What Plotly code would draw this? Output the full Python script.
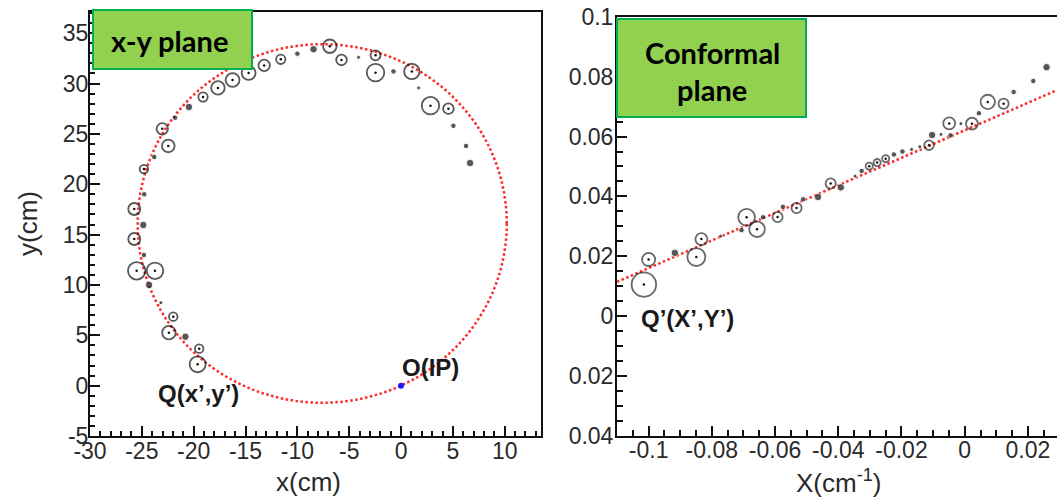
import plotly.graph_objects as go

# ---------------- x-y plane hits ----------------
# hits with a drift ring: centre (cm) and drift radius (cm)
xy_ring_x = [-25.73, -25.73, -24.8, -23.03, -22.45, -19.1, -17.66, -16.25, -14.7, -13.2,
             -11.6, -6.87, -5.74, -2.46, -2.46, 1.04, 2.84, 4.57,
             -25.5, -23.73, -21.97, -22.39, -19.47, -19.62]
xy_ring_y = [17.54, 14.56, 21.5, 25.5, 23.8, 28.66, 29.56, 30.35, 31.05, 31.8,
             32.4, 33.7, 32.34, 32.8, 31.08, 31.2, 27.8, 27.5,
             11.4, 11.4, 6.85, 5.26, 3.67, 2.12]
xy_ring_r = [0.58, 0.58, 0.41, 0.55, 0.61, 0.45, 0.65, 0.67, 0.67, 0.55,
             0.45, 0.65, 0.51, 0.48, 0.84, 0.74, 0.84, 0.51,
             0.84, 0.80, 0.41, 0.65, 0.41, 0.77]
# hits without a ring: position (cm) and charge weight (1..3)
xy_dot_x = [-24.86, -24.77, -23.8, -21.8, -20.46, -10.0, -8.44, -4.1, -0.73, 1.71,
            5.05, 6.27, 6.66, -24.8, -24.3, -23.16, -20.8]
xy_dot_y = [15.95, 19.0, 22.7, 26.6, 27.67, 32.96, 33.4, 32.6, 31.2, 29.56,
            25.8, 23.8, 22.1, 12.97, 10.0, 8.24, 4.86]
xy_dot_w = [3, 2, 2, 2, 3, 2, 3, 1, 2, 1,
            2, 2, 3, 2, 3, 1, 3]
# fitted circle through the interaction point
circle_cx, circle_cy = -7.6, 16.1
circle_r = 17.8
ip_x, ip_y = [0.0], [0.0]

# ---------------- conformal plane hits ----------------
cf_ring_x = [-0.1015, -0.1, -0.0849, -0.0833, -0.069, -0.0657, -0.0592, -0.0532, -0.0424,
             -0.0302, -0.0277, -0.025, -0.0113, -0.0049, 0.0023, 0.0073, 0.0123]
cf_ring_y = [0.0105, 0.0189, 0.0197, 0.0257, 0.033, 0.029, 0.0331, 0.0361, 0.0443,
             0.0501, 0.0513, 0.0526, 0.0571, 0.0644, 0.0643, 0.0716, 0.071]
cf_ring_r = [0.0041, 0.0022, 0.0030, 0.0020, 0.0028, 0.0026, 0.0017, 0.0017, 0.0017,
             0.0012, 0.0012, 0.0012, 0.0016, 0.0020, 0.0020, 0.0024, 0.0017]
cf_dot_x = [-0.0917, -0.0772, -0.0706, -0.0638, -0.0575, -0.0511, -0.0464, -0.0392, -0.0347,
            -0.0326, -0.0224, -0.0197, -0.0168, -0.0142, -0.0103, -0.0075, -0.0045, -0.0012,
            0.0045, 0.0155, 0.0217, 0.0259]
cf_dot_y = [0.0211, 0.0267, 0.0287, 0.033, 0.0365, 0.039, 0.0398, 0.043, 0.0468,
            0.0485, 0.054, 0.055, 0.0557, 0.0566, 0.0605, 0.0607, 0.0604, 0.0643,
            0.0678, 0.0749, 0.0786, 0.0832]
cf_dot_w = [3, 1, 2, 2, 2, 2, 3, 3, 1,
            2, 2, 2, 1, 1, 3, 1, 2, 1,
            2, 2, 2, 3]
# fitted straight line Y = a + b X
line_a, line_b = 0.0621, 0.461

# ---------------- axes ----------------
W, H = 1057, 499
xy_xrange = [-30, 13.5]
xy_yrange = [-5, 37.1]
cf_xrange = [-0.11, 0.0292]
cf_yrange = [-0.04, 0.1]

dom_xy_x = [90 / W, 541 / W]
dom_xy_y = [1 - 436 / H, 1 - 12 / H]
dom_cf_x = [617 / W, 1.0]
dom_cf_y = [1 - 435.5 / H, 1 - 17 / H]

xy_px_per_cm = (dom_xy_x[1] - dom_xy_x[0]) * W / (xy_xrange[1] - xy_xrange[0])
cf_px_per_unit = (dom_cf_y[1] - dom_cf_y[0]) * H / (cf_yrange[1] - cf_yrange[0])

ink = "#111111"
dot_px = {1: 4, 2: 5.5, 3: 7.5}

fig = go.Figure()

# left panel
fig.add_trace(go.Scatter(
    x=xy_ring_x, y=xy_ring_y, mode="markers", xaxis="x", yaxis="y",
    marker=dict(symbol="circle-open", color=ink,
                size=[2 * r * xy_px_per_cm for r in xy_ring_r],
                line=dict(width=1.8, color=ink)),
    showlegend=False, hoverinfo="skip"))
fig.add_trace(go.Scatter(
    x=xy_ring_x, y=xy_ring_y, mode="markers", xaxis="x", yaxis="y",
    marker=dict(color=ink, size=2.5), showlegend=False, hoverinfo="skip"))
fig.add_trace(go.Scatter(
    x=xy_dot_x, y=xy_dot_y, mode="markers", xaxis="x", yaxis="y",
    marker=dict(color=ink, size=[dot_px[w] for w in xy_dot_w]),
    showlegend=False, hoverinfo="skip"))
fig.add_trace(go.Scatter(
    x=ip_x, y=ip_y, mode="markers", xaxis="x", yaxis="y",
    marker=dict(color="#1a1aff", size=6), showlegend=False, hoverinfo="skip"))

# right panel
fig.add_trace(go.Scatter(
    x=[cf_xrange[0], cf_xrange[1]],
    y=[line_a + line_b * cf_xrange[0], line_a + line_b * cf_xrange[1]],
    mode="lines", xaxis="x2", yaxis="y2",
    line=dict(color="#ff2a2a", width=2.5, dash="2.5px,2.5px"),
    showlegend=False, hoverinfo="skip"))
fig.add_trace(go.Scatter(
    x=cf_ring_x, y=cf_ring_y, mode="markers", xaxis="x2", yaxis="y2",
    marker=dict(symbol="circle-open", color="#2a2a2a",
                size=[2 * r * cf_px_per_unit for r in cf_ring_r],
                line=dict(width=1.8, color="#2a2a2a")),
    showlegend=False, hoverinfo="skip"))
fig.add_trace(go.Scatter(
    x=cf_ring_x, y=cf_ring_y, mode="markers", xaxis="x2", yaxis="y2",
    marker=dict(color=ink, size=2.5), showlegend=False, hoverinfo="skip"))
fig.add_trace(go.Scatter(
    x=cf_dot_x, y=cf_dot_y, mode="markers", xaxis="x2", yaxis="y2",
    marker=dict(color=ink, size=[dot_px[w] for w in cf_dot_w]),
    showlegend=False, hoverinfo="skip"))

tick_font = dict(family="Liberation Sans, Arial, sans-serif", size=23, color="#2a2a2a")
axis_common = dict(showgrid=False, zeroline=False, showline=True, linecolor=ink,
                   linewidth=2, ticks="inside", tickcolor=ink, tickwidth=1.5,
                   ticklen=10, tickfont=tick_font, mirror=True, automargin=False)

xy_xticks = [-30, -25, -20, -15, -10, -5, 0, 5, 10]
xy_yticks = [-5, 0, 5, 10, 15, 20, 25, 30, 35]
cf_xticks = [-0.1, -0.08, -0.06, -0.04, -0.02, 0, 0.02]
cf_xlabels = ["-0.1", "-0.08", "-0.06", "-0.04", "-0.02", "0", "0.02"]
cf_yticks = [-0.04, -0.02, 0, 0.02, 0.04, 0.06, 0.08, 0.1]
cf_ylabels = ["0.04", "0.02", "0", "0.02", "0.04", "0.06", "0.08", "0.1"]

minor_common = dict(ticks="inside", tickcolor=ink, tickwidth=1.5)

fig.update_layout(
    width=W, height=H, margin=dict(l=0, r=0, t=0, b=0, autoexpand=False),
    paper_bgcolor="white", plot_bgcolor="white",
    xaxis=dict(axis_common, domain=dom_xy_x, range=xy_xrange, anchor="y",
               tickvals=xy_xticks, ticktext=[str(v) for v in xy_xticks],
               ticklabelstandoff=-7,
               minor=dict(minor_common, dtick=1, ticklen=5)),
    yaxis=dict(axis_common, domain=dom_xy_y, range=xy_yrange, anchor="x",
               tickvals=xy_yticks, ticktext=[str(v) for v in xy_yticks],
               ticklabelstandoff=-5,
               minor=dict(minor_common, dtick=1, ticklen=5)),
    xaxis2=dict(axis_common, domain=dom_cf_x, range=cf_xrange, anchor="y2",
                tickvals=cf_xticks, ticktext=cf_xlabels, ticklabelstandoff=-7,
                minor=dict(minor_common, tick0=0, dtick=0.005, ticklen=6)),
    yaxis2=dict(axis_common, domain=dom_cf_y, range=cf_yrange, anchor="x2",
                mirror=False, tickvals=cf_yticks, ticktext=cf_ylabels,
                ticklabelstandoff=-3,
                minor=dict(minor_common, tick0=0, dtick=0.005, ticklen=6)),
)

# fitted circle in the x-y plane
fig.add_shape(type="circle", xref="x", yref="y",
              x0=circle_cx - circle_r, x1=circle_cx + circle_r,
              y0=circle_cy - circle_r, y1=circle_cy + circle_r,
              line=dict(color="#ff2a2a", width=2.5, dash="2.5px,2.5px"), layer="below")

# green title boxes
def px_box(x0, y0, x1, y1):
    return dict(x0=x0 / W, x1=x1 / W, y0=1 - y1 / H, y1=1 - y0 / H)

fig.add_shape(type="rect", xref="paper", yref="paper", **px_box(93, 10, 252, 69),
              fillcolor="#92d050", line=dict(color="#00b050", width=2), layer="above")
fig.add_shape(type="rect", xref="paper", yref="paper", **px_box(617, 19, 806, 117),
              fillcolor="#92d050", line=dict(color="#00b050", width=2), layer="above")

box_font = dict(family="Lato, Open Sans, sans-serif", size=29, color="black")
lab_font = dict(family="Liberation Sans, Arial, sans-serif", size=24, color="#1a1a1a")
title_font = dict(family="Liberation Sans, Arial, sans-serif", size=26, color="#2a2a2a")

def note(text, px, py, font, angle=0):
    fig.add_annotation(text=text, x=px / W, y=1 - py / H, xref="paper", yref="paper",
                       showarrow=False, xanchor="center", yanchor="middle",
                       font=font, textangle=angle)

note("<b>x-y plane</b>", 169, 41, box_font)
note("<b>Conformal</b>", 712, 52, box_font)
note("<b>plane</b>", 712, 89, box_font)
note("<b>Q(x’,y’)</b>", 198, 393, lab_font)
note("<b>O(IP)</b>", 430, 367, lab_font)
note("<b>Q’(X’,Y’)</b>", 687, 318, lab_font)
note("x(cm)", 308, 482, title_font)
note("y(cm)", 28, 224, title_font, angle=-90)
note("X(cm<sup>-1</sup>)", 839, 481, title_font)

fig.write_html("out.html")
